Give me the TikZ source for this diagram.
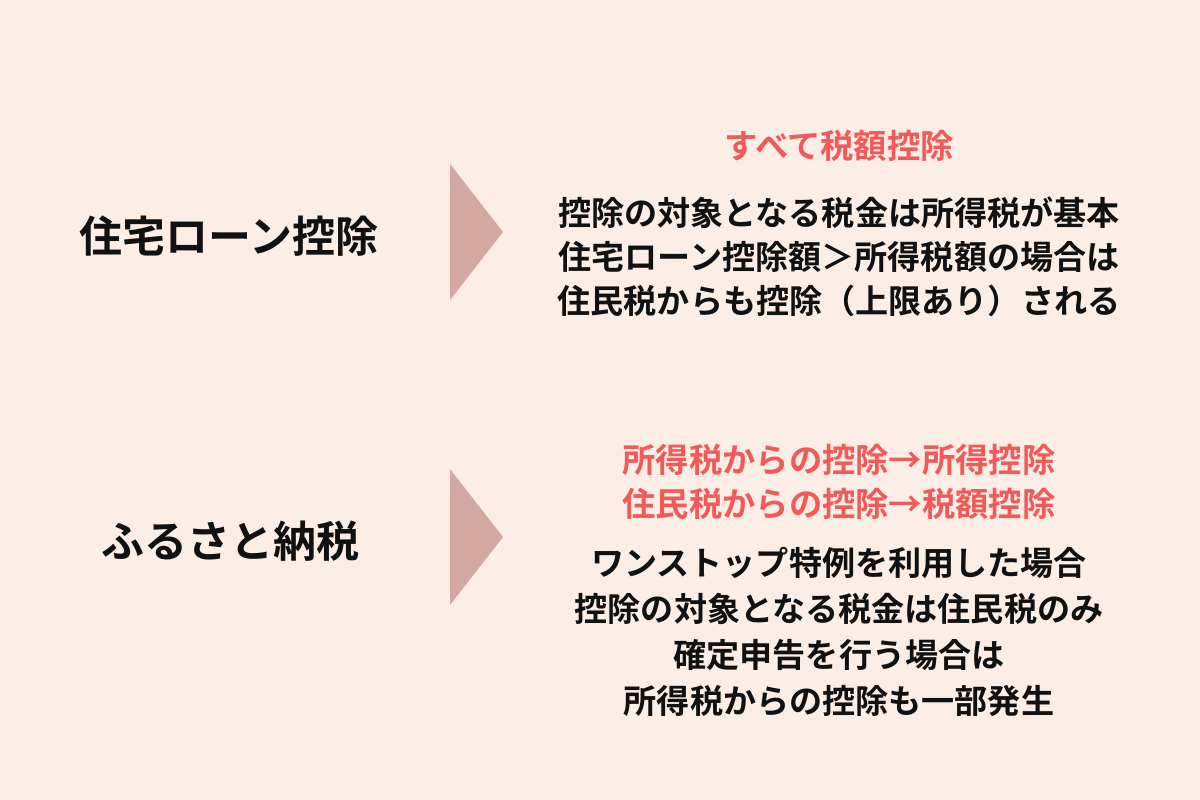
\documentclass[tikz,border=0pt]{standalone}
\usepackage{fontspec}
\newfontfamily\jp{Noto Sans CJK JP}[BoldFont={Noto Sans CJK JP Bold}]
\definecolor{bgc}{HTML}{FCEDE5}
\definecolor{tri}{HTML}{D2A8A1}
\definecolor{redt}{HTML}{F25A5A}
\definecolor{blk}{HTML}{111111}
\tikzset{
  title/.style={font=\jp\bfseries\fontsize{43}{50}\selectfont, text=blk, inner sep=0pt},
  redtxt/.style={font=\jp\bfseries\fontsize{33.3}{43.5}\selectfont, text=redt, align=center, inner sep=0pt},
  blktxt/.style={font=\jp\bfseries\fontsize{33.1}{44}\selectfont, text=blk, align=center, inner sep=0pt},
  blktxtb/.style={font=\jp\bfseries\fontsize{33.1}{46}\selectfont, text=blk, align=center, inner sep=0pt},
  arrowtri/.style={fill=tri, draw=none}
}
\begin{document}
\begin{tikzpicture}[x=1pt,y=-1pt]
\fill[bgc] (0,0) rectangle (1200,800);
\useasboundingbox (0,0) rectangle (1200,800);
% left titles
\node[title] (t1) at (229,236) {住宅ローン控除};
\node[title] (t2) at (230,541) {ふるさと納税};
% arrows
\fill[arrowtri] (450,164) -- (503,232) -- (450,300) -- cycle;
\fill[arrowtri] (450,469) -- (503,537) -- (450,605) -- cycle;
% right texts
\node[redtxt] (r1) at (839,146) {すべて税額控除};
\node[blktxt] (b1) at (839,257) {控除の対象となる税金は所得税が基本\\住宅ローン控除額＞所得税額の場合は\\住民税からも控除（上限あり）される};
\node[redtxt] (r2) at (839,482) {所得税からの控除→所得控除\\住民税からの控除→税額控除};
\node[blktxtb] (b2) at (839,632) {ワンストップ特例を利用した場合\\控除の対象となる税金は住民税のみ\\確定申告を行う場合は\\所得税からの控除も一部発生};
\end{tikzpicture}
\end{document}
